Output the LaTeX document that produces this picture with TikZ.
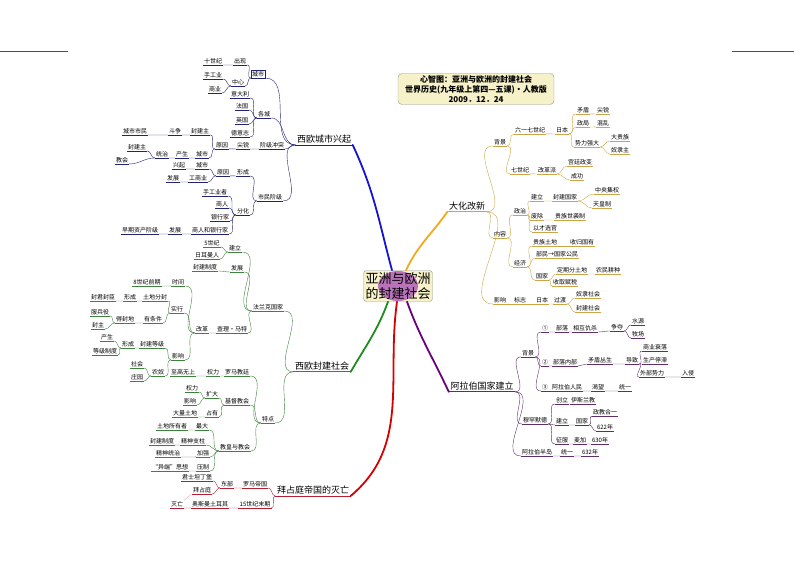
\documentclass[tikz,border=0pt]{standalone}
\usepackage{fontspec}
\setmainfont{Noto Sans CJK SC}
\usepackage{xcolor}
\usetikzlibrary{positioning,calc}

\definecolor{navyln}{RGB}{35,35,115}
\definecolor{blueln}{RGB}{20,20,210}
\definecolor{greenln}{RGB}{60,130,60}
\definecolor{greenmain}{RGB}{30,140,30}
\definecolor{redln}{RGB}{180,30,50}
\definecolor{redmain}{RGB}{215,0,0}
\definecolor{goldln}{RGB}{205,165,70}
\definecolor{goldmain}{RGB}{240,170,30}
\definecolor{purpleln}{RGB}{95,45,105}
\definecolor{purplemain}{RGB}{105,0,125}
\definecolor{paper}{RGB}{246,241,200}

\tikzset{
  lf/.style={font=\fontsize{6}{6}\selectfont, inner sep=1pt},
  topic/.style={font=\fontsize{9}{9}\selectfont, inner sep=1.5pt},
  mainline/.style={line width=1.8pt, line cap=round},
}

\begin{document}
\begin{tikzpicture}[x=1pt,y=-1pt]
\useasboundingbox (0,0) rectangle (794,561);

% page rules
\draw[line width=1pt, black!70] (0,52) -- (68,52);
\draw[line width=1pt, black!70] (732,52) -- (794,52);

% title
\node[draw=black!40, fill=paper, rounded corners=4pt, align=center, inner sep=2pt,
  font=\fontsize{8}{10}\selectfont\bfseries, minimum width=156pt] (title) at (476,89)
  {心智图：亚洲与欧洲的封建社会\\世界历史(九年级上第四—五课)·人教版\\2009．12．24};

% centre
\node[draw=black!40, fill=paper, rounded corners=3pt, align=center, inner sep=2pt,
  font=\fontsize{13}{15}\selectfont,
  path picture={\fill[violet!55] (path picture bounding box.center) ellipse (20pt and 15pt);}]
  (ctr) at (398,286) {亚洲与欧洲\\的封建社会};

% main topics
\node[topic] (wm) at (324,139) {西欧城市兴起};
\node[topic] (fm) at (322,366) {西欧封建社会};
\node[topic] (bm) at (313,490) {拜占庭帝国的灭亡};
\node[topic] (dm) at (467,206) {大化改新};
\node[topic] (lm) at (482,386) {阿拉伯国家建立};

\draw[navyln, line width=0.8pt] (wm.south west) -- (wm.south east);
\draw[greenln, line width=0.8pt] (fm.south west) -- (fm.south east);
\draw[redln, line width=0.8pt] (bm.south west) -- (bm.south east);
\draw[goldln, line width=0.8pt] (dm.south west) -- (dm.south east);
\draw[purpleln, line width=0.8pt] (lm.south west) -- (lm.south east);

\draw[mainline, blueln] ($(ctr.north)+(-6,0)$) to[out=105,in=-65] (wm.south east);
\draw[mainline, goldmain] ($(ctr.north)+(8,0)$) to[out=65,in=235] (dm.south west);
\draw[mainline, greenmain] ($(ctr.south)+(-10,0)$) to[out=250,in=60] (fm.south east);
\draw[mainline, redmain] ($(ctr.south)+(-1,0)$) to[out=262,in=40] (bm.south east);
\draw[mainline, purplemain] ($(ctr.south)+(9,0)$) to[out=-70,in=115] (lm.south west);

% 西欧城市兴起
\foreach \n/\p/\x/\y/\lbl in {
  w1/wm/258/74/城市, w11/w1/240/61/出现, w111/w11/213/61/十世纪,
  w12/w1/238/82/中心, w121/w12/213/75/手工业, w122/w12/215/89/商业,
  w2/wm/264/114/各城, w21/w2/240/94/意大利, w22/w2/242/106/法国,
  w23/w2/242/120/英国, w24/w2/240/133/德意志,
  w3/wm/272/145/阶级冲突, w31/w3/243/145/尖锐, w32/w31/222/145/原因,
  w33/w32/200/131/封建主, w331/w33/175/131/斗争, w332/w331/135/131/城市市民,
  w34/w32/202/154/城市, w341/w34/182/154/产生, w342/w341/162/154/统治,
  w3421/w342/137/147/封建主, w3422/w342/122/160/教会,
  w4/wm/270/197/市民阶级, w41/w4/243/172/形成, w411/w41/223/172/原因,
  w4111/w411/202/165/城市, w41111/w4111/179/165/兴起,
  w4112/w411/198/178/工商业, w41121/w4112/173/178/发展,
  w42/w4/243/211/分化, w421/w42/215/192/手工业者, w422/w42/222/204/商人,
  w423/w42/220/217/银行家, w43/w42/210/230/商人和银行家,
  w431/w43/175/230/发展, w432/w431/140/230/早期资产阶级} {
  \node[lf] (\n) at (\x,\y) {\lbl};
  \draw[navyln, thin] (\n.south west) -- (\n.south east);
  \draw[navyln, thin] (\p.south west) to[out=180,in=0] (\n.south east);
}
\draw[navyln, thin] (w1.south west) rectangle (w1.north east);

% 西欧封建社会
\foreach \n/\p/\x/\y/\lbl in {
  f1/fm/268/307/法兰克国家, f11/f1/235/248/建立, f111/f11/212/243/5世纪,
  f112/f11/207/255/日耳曼人, f12/f1/237/268/发展, f121/f12/205/267/封建制度,
  f13/f1/232/329/查理·马特, f131/f13/202/329/改革,
  f1311/f131/178/282/时间, f13111/f1311/147/282/8世纪前期,
  f1312/f131/177/309/实行, f13121/f1312/155/297/土地分封,
  f131211/f13121/130/297/形成, f1312111/f131211/103/297/封君封臣,
  f13122/f1312/153/319/有条件, f131221/f13122/125/319/得封地,
  f1312211/f131221/100/312/服兵役, f1312212/f131221/98/325/封主,
  f1313/f131/178/356/影响, f13131/f1313/152/344/封建等级,
  f131311/f13131/128/344/形成, f1313111/f131311/107/337/产生,
  f1313112/f131311/105/351/等级制度, f13132/f1313/158/372/农奴,
  f131321/f13132/137/364/社会, f131322/f13132/137/377/庄园,
  f2/fm/268/419/特点, f21/f2/237/372/罗马教廷, f211/f21/213/372/权力,
  f2111/f211/183/372/至高无上, f22/f2/237/401/基督教会,
  f221/f22/212/394/扩大, f2211/f221/192/388/权力, f2212/f221/190/401/影响,
  f222/f22/212/413/占有, f2221/f222/185/413/大量土地,
  f23/f2/235/447/教皇与教会, f231/f23/202/426/最大, f2311/f231/172/426/土地所有者,
  f232/f23/193/441/精神支柱, f2321/f232/162/441/封建制度,
  f233/f23/203/453/加强, f2331/f233/168/453/精神统治,
  f234/f23/203/467/压制, f2341/f234/170/467/“异端”思想} {
  \node[lf] (\n) at (\x,\y) {\lbl};
  \draw[greenln, thin] (\n.south west) -- (\n.south east);
  \draw[greenln, thin] (\p.south west) to[out=180,in=0] (\n.south east);
}

% 拜占庭帝国的灭亡
\foreach \n/\p/\x/\y/\lbl in {
  b1/bm/255/484/罗马帝国, b11/b1/227/484/东部, b111/b11/197/477/君士坦丁堡,
  b112/b11/202/490/拜占庭, b2/bm/255/504/15世纪末期,
  b21/b2/210/504/奥斯曼土耳其, b211/b21/177/504/灭亡} {
  \node[lf] (\n) at (\x,\y) {\lbl};
  \draw[redln, thin] (\n.south west) -- (\n.south east);
  \draw[redln, thin] (\p.south west) to[out=180,in=0] (\n.south east);
}
\draw[redln, thin, densely dotted] (b211.north east) -- (b112.south west);

% 大化改新
\foreach \n/\p/\x/\y/\lbl in {
  d1/dm/500/142/背景, d11/d1/530/130/六一七世纪, d111/d11/562/130/日本,
  d1111/d111/583/110/矛盾, d11111/d1111/603/110/尖锐,
  d1112/d111/583/123/政局, d11121/d1112/603/123/混乱,
  d1113/d111/587/143/势力强大, d11131/d1113/620/137/大贵族, d11132/d1113/620/150/奴隶主,
  d12/d1/520/170/七世纪, d121/d12/547/170/改革派,
  d1211/d121/580/162/宫廷政变, d1212/d121/577/176/成功,
  d2/dm/500/234/内容, d21/d2/520/211/政治, d211/d21/537/197/建立,
  d2111/d211/565/197/封建国家, d21111/d2111/607/190/中央集权, d21112/d2111/602/204/天皇制,
  d212/d21/537/216/废除, d2121/d212/570/216/贵族世袭制, d213/d21/545/228/以才选官,
  d22/d2/520/263/经济, d221/d22/545/242/贵族土地, d2211/d221/582/242/收归国有,
  d222/d22/557/254/部民→国家公民, d223/d22/542/276/国家,
  d2231/d223/572/270/定期分土地, d22311/d2231/608/270/农民耕种, d2232/d223/565/282/收取赋税,
  d3/dm/500/300/影响, d31/d3/520/300/标志, d311/d31/542/300/日本, d3111/d311/560/300/过渡,
  d31111/d3111/588/294/奴隶社会, d31112/d3111/588/308/封建社会} {
  \node[lf] (\n) at (\x,\y) {\lbl};
  \draw[goldln, thin] (\n.south west) -- (\n.south east);
  \draw[goldln, thin] (\p.south east) to[out=0,in=180] (\n.south west);
}

% 阿拉伯国家建立
\foreach \n/\p/\x/\y/\lbl in {
  l1/lm/528/353/背景, l11/l1/545/328/①, l111/l11/562/328/部落, l1111/l111/585/328/相互仇杀,
  l11111/l1111/617/327/争夺, l111111/l11111/638/321/水源, l111112/l11111/638/334/牧场,
  l12/l1/545/362/②, l121/l12/565/362/部落内部, l1211/l121/600/360/矛盾丛生,
  l12111/l1211/632/360/导致, l121111/l12111/655/347/商业衰落,
  l121112/l12111/655/360/生产停滞, l121113/l12111/652/373/外部势力,
  l1211131/l121113/688/373/入侵,
  l13/l1/545/387/③, l131/l13/567/387/阿拉伯人民, l1311/l131/598/387/渴望, l13111/l1311/625/387/统一,
  l2/lm/535/420/穆罕默德, l21/l2/562/400/创立, l211/l21/583/400/伊斯兰教,
  l22/l2/562/421/建立, l221/l22/582/421/国家, l2211/l221/605/412/政教合一, l2212/l221/605/427/622年,
  l23/l2/562/440/征服, l231/l23/580/440/麦加, l2311/l231/600/440/630年,
  l3/lm/537/452/阿拉伯半岛, l31/l3/567/452/统一, l311/l31/590/452/632年} {
  \node[lf] (\n) at (\x,\y) {\lbl};
  \draw[purpleln, thin] (\n.south west) -- (\n.south east);
  \draw[purpleln, thin] (\p.south east) to[out=0,in=180] (\n.south west);
}
\end{tikzpicture}
\end{document}
